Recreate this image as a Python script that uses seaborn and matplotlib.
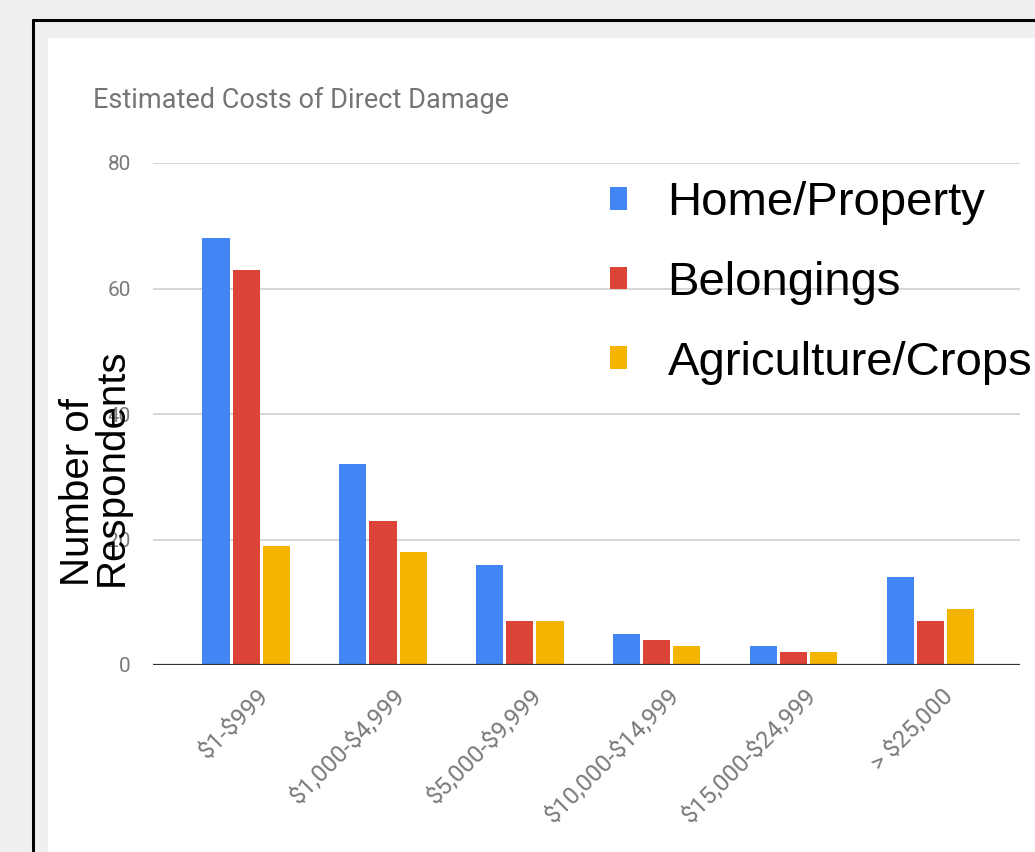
import matplotlib
matplotlib.use("Agg")
import matplotlib.pyplot as plt
import matplotlib.transforms as mtransforms
from matplotlib.patches import Rectangle
from matplotlib.lines import Line2D
import pandas as pd
import seaborn as sns

# Cost brackets and respondent counts per damage type
categories = ["$1-$999", "$1,000-$4,999", "$5,000-$9,999",
              "$10,000-$14,999", "$15,000-$24,999", "> $25,000"]
series_names = ["Home/Property", "Belongings", "Agriculture/Crops"]
home_property = [68, 32, 16, 5, 3, 14]
belongings = [63, 23, 7, 4, 2, 7]
agriculture_crops = [19, 18, 7, 3, 2, 9]
y_ticks = [0, 20, 40, 60, 80]

colors = ["#4285F4", "#DB4437", "#F4B400"]

df = pd.DataFrame({
    "bracket": categories * 3,
    "series": [series_names[0]] * 6 + [series_names[1]] * 6 + [series_names[2]] * 6,
    "count": home_property + belongings + agriculture_crops,
})

sns.set_theme(style="white")
plt.rcParams["font.family"] = ["Roboto", "DejaVu Sans"]

W, H = 1035, 852
fig = plt.figure(figsize=(W / 100, H / 100), dpi=100, facecolor="#efefef")

def fx(px):
    return px / W

def fy(py):
    return 1 - py / H

# slide frame: black border and white panel (kept behind the chart)
fig.add_artist(Line2D([fx(33), fx(33)], [fy(20), 0], color="black", lw=2.2,
                      transform=fig.transFigure, zorder=-5))
fig.add_artist(Line2D([fx(33), 1], [fy(20), fy(20)], color="black", lw=2.2,
                      transform=fig.transFigure, zorder=-5))
fig.add_artist(Rectangle((fx(48), 0), 1 - fx(48), fy(38), facecolor="white",
                         edgecolor="none", transform=fig.transFigure, zorder=-5))

ax = fig.add_axes([fx(153), fy(665), fx(1020) - fx(153), fy(163) - fy(665)])
ax.set_facecolor("none")
ax.set_zorder(2)

sns.barplot(data=df, x="bracket", y="count", hue="series", order=categories,
            hue_order=series_names, palette=colors, saturation=1,
            width=0.66, gap=0.1, ax=ax, edgecolor="none", linewidth=0)

ax.set_xlim(-0.68, 5.654)
ax.set_ylim(0, 80)
for s in ax.spines.values():
    s.set_visible(False)
ax.set_yticks(y_ticks)
ax.set_yticklabels([str(v) for v in y_ticks], color="#7a7a7a", fontsize=15)
ax.yaxis.grid(True, color="#d0d0d0", lw=1.2)
ax.set_axisbelow(True)
ax.axhline(0, color="#333333", lw=1.6, zorder=5)
ax.tick_params(axis="y", length=0, pad=16)
ax.tick_params(axis="x", length=0, pad=14)

ax.set_xticks(range(len(categories)))
ax.set_xticklabels(categories, rotation=45, ha="right", va="top",
                   rotation_mode="anchor", color="#7a7a7a", fontsize=17.5,
                   parse_math=False)
shift = mtransforms.ScaledTranslation(11 / 100, 0, fig.dpi_scale_trans)
for lab in ax.get_xticklabels():
    lab.set_transform(lab.get_transform() + shift)

ax.set_xlabel("")
ax.set_ylabel("")

fig.text(fx(93), fy(100), "Estimated Costs of Direct Damage", color="#757575",
         fontsize=19.5, ha="left", va="center", zorder=3)

fig.text(fx(95), fy(467), "Number of\nRespondents", rotation=90, color="black",
         fontsize=29, family=["Liberation Sans", "DejaVu Sans"],
         ha="center", va="center", multialignment="left", linespacing=0.85,
         zorder=6)

handles, labels = ax.get_legend_handles_labels()
ax.legend(handles, labels, loc="upper left", bbox_to_anchor=(fx(610), fy(181)),
          bbox_transform=fig.transFigure, frameon=False, labelcolor="black",
          prop={"family": ["Liberation Sans", "DejaVu Sans"], "size": 34},
          handlelength=0.37, handleheight=0.37, handletextpad=0.85,
          labelspacing=0.76, borderpad=0, borderaxespad=0)

fig.savefig("out.png", dpi=100, facecolor=fig.get_facecolor())
